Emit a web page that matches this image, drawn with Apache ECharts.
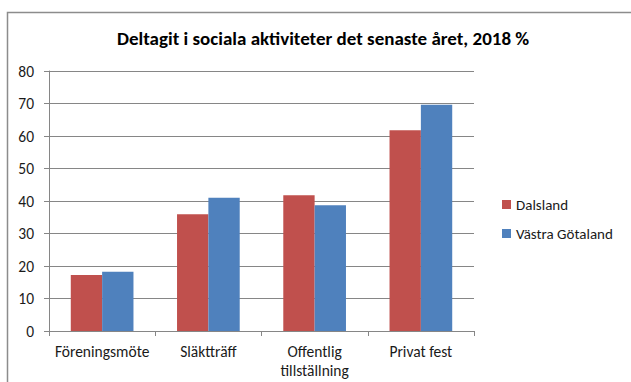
<!DOCTYPE html>
<html>
<head>
<meta charset="utf-8">
<script src="https://cdn.jsdelivr.net/npm/echarts@6/dist/echarts.min.js"></script>
<style>
html,body{margin:0;padding:0;background:#fff;}
#chart{width:631px;height:382px;}
</style>
</head>
<body>
<div id="chart"></div>
<script>
const titleText = "Deltagit i sociala aktiviteter det senaste året, 2018 %";
const categories = ["Föreningsmöte", "Släktträff", "Offentlig\ntillställning", "Privat fest"];
const seriesNames = ["Dalsland", "Västra Götaland"];
const dalsland = [17.2, 35.9, 41.8, 61.8];
const vastraGotaland = [18.2, 41.0, 38.7, 69.6];
const colors = ["#C0504D", "#4F81BD"];
const yMin = 0, yMax = 80, yInterval = 10;

const font = "Carlito, Calibri, 'Liberation Sans', sans-serif";
const chart = echarts.init(document.getElementById('chart'), null, {renderer: 'svg'});
chart.setOption({
  animation: false,
  backgroundColor: '#fff',
  textStyle: {fontFamily: font},
  graphic: [{
    type: 'polyline',
    shape: {points: [[7.5, 382], [7.5, 12.5], [631, 12.5]]},
    style: {stroke: '#8c8c8c', lineWidth: 1.5, fill: null},
    silent: true
  }],
  title: {
    text: titleText,
    left: 117,
    top: 29,
    padding: 0,
    textStyle: {fontFamily: font, fontSize: 19, fontWeight: 'bold', color: '#000'}
  },
  legend: {
    orient: 'vertical',
    left: 502,
    top: 197,
    padding: 0,
    itemWidth: 9,
    itemHeight: 9,
    itemGap: 14,
    icon: 'rect',
    textStyle: {fontFamily: font, fontSize: 15, color: '#1a1a1a', lineHeight: 15},
    data: seriesNames
  },
  grid: {left: 49, right: 157, top: 71, bottom: 51, containLabel: false},
  xAxis: {
    type: 'category',
    data: categories,
    axisLine: {lineStyle: {color: '#868686', width: 1}},
    axisTick: {show: true, length: 5, alignWithLabel: false, lineStyle: {color: '#868686'}},
    axisLabel: {fontFamily: font, fontSize: 15.5, color: '#1a1a1a', margin: 11, lineHeight: 19, interval: 0}
  },
  yAxis: {
    type: 'value',
    min: yMin, max: yMax, interval: yInterval,
    axisLine: {show: true, lineStyle: {color: '#868686', width: 1}},
    axisTick: {show: true, length: 5, lineStyle: {color: '#868686'}},
    splitLine: {show: true, lineStyle: {color: '#868686', width: 1}},
    axisLabel: {fontFamily: font, fontSize: 15.5, color: '#1a1a1a', margin: 15}
  },
  series: [
    {name: seriesNames[0], type: 'bar', data: dalsland, itemStyle: {color: colors[0]}, barGap: '0%', barCategoryGap: '41%'},
    {name: seriesNames[1], type: 'bar', data: vastraGotaland, itemStyle: {color: colors[1]}, barGap: '0%', barCategoryGap: '41%'}
  ]
});
</script>
</body>
</html>
